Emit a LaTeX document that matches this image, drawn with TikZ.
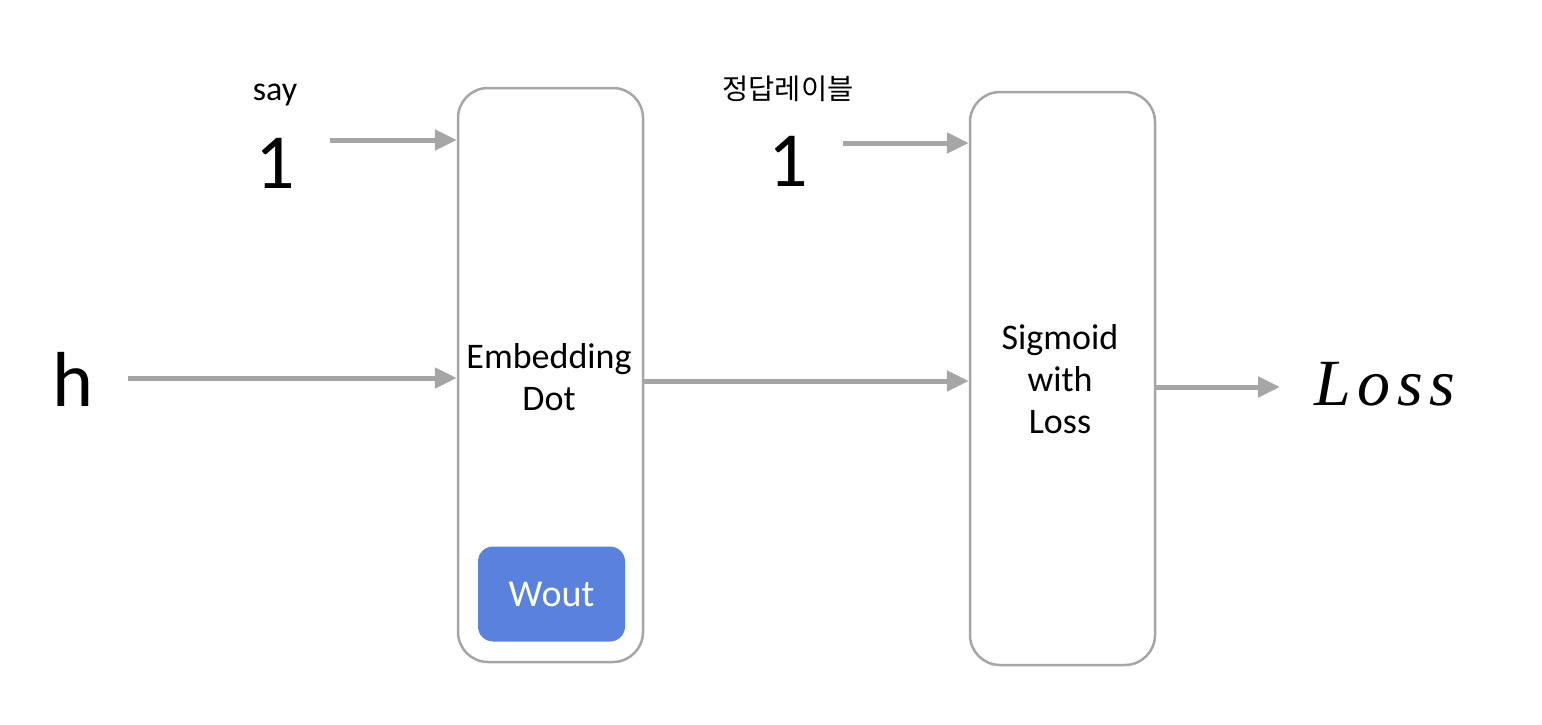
\documentclass[tikz,border=0pt]{standalone}
\usepackage{fontspec}
\setmainfont{Carlito}
\newfontfamily\krfont{Noto Sans CJK KR}
\newfontfamily\lossfont[LetterSpace=10]{Liberation Serif}
\usetikzlibrary{arrows.meta}
\definecolor{edgegray}{HTML}{A6A6A6}
\definecolor{wblue}{HTML}{5A82DC}
\tikzset{
  layerbox/.style={draw=edgegray, line width=2.5pt, rounded corners=30pt, fill=white},
  flow/.style={draw=edgegray, line width=5pt, -{Triangle[length=22pt,width=20pt]}},
  lbl/.style={inner sep=0pt, font=\fontsize{36}{42}\selectfont, align=center},
  big/.style={inner sep=0pt, font=\fontsize{78}{80}\selectfont},
}
\begin{document}
\begin{tikzpicture}[x=1pt,y=-1pt]
\useasboundingbox (0,0) rectangle (1542,724);

% the two layers
\node[layerbox, inner sep=0pt, minimum width=185pt, minimum height=574pt] (box1) at (550.5,375) {};
\node[layerbox, inner sep=0pt, minimum width=185pt, minimum height=573pt] (box2) at (1062.5,378.5) {};

\node[lbl] (embtext) at (549,377) {Embedding\\Dot};
\node[lbl] (sigtext) at (1060,379) {Sigmoid\\with\\Loss};

% weight block inside the first layer
\node[fill=wblue, rounded corners=15pt, minimum width=147pt, minimum height=95pt,
      inner sep=0pt, text=white, font=\fontsize{38}{40}\selectfont] (wout) at (551.5,594) {W\kern-1pt out};

% inputs
\node[lbl, font=\fontsize{34}{36}\selectfont] (say) at (275,95) {say};
\node[big] (one1) at (275,163) {1};
\node[inner sep=0pt, font=\krfont\fontsize{28.5}{30}\selectfont] (label) at (788,89) {정답레이블};
\node[big] (one2) at (788,161) {1};
\node[big] (h) at (73,379) {h};
\node[inner sep=0pt, font=\lossfont\itshape\fontsize{66}{68}\selectfont] (loss) at (1385,384) {Loss};

\coordinate (s1) at (330,140);
\coordinate (s2) at (128,378);
\coordinate (s3) at (843,143);
\coordinate (s4) at (643,381);
\coordinate (s5) at (1155,387);
\coordinate (e5) at (1280,387);

\draw[flow] (s1) -- (box1.west |- s1);
\draw[flow] (s2) -- (box1.west |- s2);
\draw[flow] (s3) -- (box2.west |- s3);
\draw[flow] (s4) -- (box2.west |- s4);
\draw[flow] (s5) -- (e5);
\end{tikzpicture}
\end{document}
